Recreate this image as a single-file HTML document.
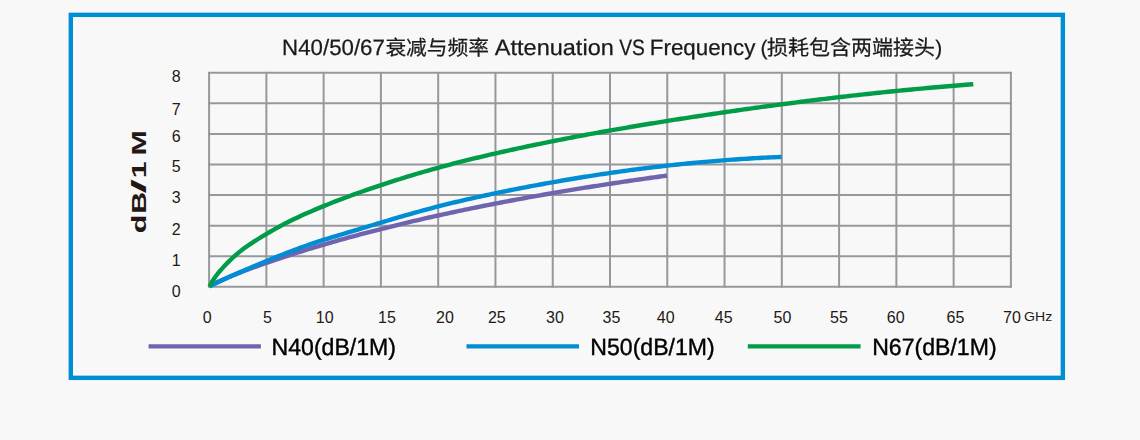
<!DOCTYPE html>
<html lang="zh-CN">
<head>
<meta charset="utf-8">
<title>N40/50/67 衰减与频率 Attenuation VS Frequency</title>
<style>
html,body{margin:0;padding:0;background:#f8f8f8;}
body{width:1140px;height:440px;overflow:hidden;}
svg{display:block;}
text{font-family:"Liberation Sans","Noto Sans CJK SC",sans-serif;}
.tick text,#ylab{fill:#231815;}
#title,#legend{filter:grayscale(1);text-rendering:geometricPrecision;}
.tick text{font-size:16px;}
.grid line{stroke:#96989b;stroke-width:2;}
.curve{fill:none;stroke-width:4.4;stroke-linecap:butt;stroke-linejoin:round;}
</style>
</head>
<body>
<svg width="1140" height="440" viewBox="0 0 1140 440">
<rect x="0" y="0" width="1140" height="440" fill="#f8f8f8"/>
<rect x="70.8" y="14.85" width="992.05" height="363" fill="none" stroke="#008ed2" stroke-width="4.4"/>
<g class="grid">
<line x1="209.10" y1="71.90" x2="209.10" y2="287.70"/>
<line x1="266.37" y1="71.90" x2="266.37" y2="287.70"/>
<line x1="323.64" y1="71.90" x2="323.64" y2="287.70"/>
<line x1="380.91" y1="71.90" x2="380.91" y2="287.70"/>
<line x1="438.19" y1="71.90" x2="438.19" y2="287.70"/>
<line x1="495.46" y1="71.90" x2="495.46" y2="287.70"/>
<line x1="552.73" y1="71.90" x2="552.73" y2="287.70"/>
<line x1="610.00" y1="71.90" x2="610.00" y2="287.70"/>
<line x1="667.27" y1="71.90" x2="667.27" y2="287.70"/>
<line x1="724.54" y1="71.90" x2="724.54" y2="287.70"/>
<line x1="781.81" y1="71.90" x2="781.81" y2="287.70"/>
<line x1="839.09" y1="71.90" x2="839.09" y2="287.70"/>
<line x1="896.36" y1="71.90" x2="896.36" y2="287.70"/>
<line x1="953.63" y1="71.90" x2="953.63" y2="287.70"/>
<line x1="1010.90" y1="71.90" x2="1010.90" y2="287.70"/>
<line x1="208.20" y1="72.80" x2="1011.80" y2="72.80"/>
<line x1="208.20" y1="103.37" x2="1011.80" y2="103.37"/>
<line x1="208.20" y1="133.94" x2="1011.80" y2="133.94"/>
<line x1="208.20" y1="164.51" x2="1011.80" y2="164.51"/>
<line x1="208.20" y1="195.09" x2="1011.80" y2="195.09"/>
<line x1="208.20" y1="225.66" x2="1011.80" y2="225.66"/>
<line x1="208.20" y1="256.23" x2="1011.80" y2="256.23"/>
<line x1="208.20" y1="286.80" x2="1011.80" y2="286.80"/>
</g>
<path class="curve" stroke="#6f64ae" d="M209.45,286.37 L209.50,286.33 L209.64,286.22 L209.88,286.05 L210.21,285.83 L210.64,285.56 L211.16,285.25 L211.78,284.90 L212.49,284.51 L213.30,284.09 L214.21,283.63 L215.21,283.13 L216.30,282.60 L217.49,282.04 L218.77,281.44 L220.15,280.82 L221.63,280.16 L223.20,279.46 L224.86,278.74 L226.62,277.99 L228.47,277.21 L230.43,276.40 L232.47,275.57 L234.61,274.70 L236.85,273.81 L239.18,272.89 L241.60,271.95 L244.12,270.98 L246.74,269.99 L249.45,268.98 L252.10,268.00 L255.10,266.90 L258.10,265.82 L261.10,264.75 L264.10,263.69 L267.10,262.64 L270.10,261.61 L273.10,260.58 L276.10,259.57 L279.10,258.56 L282.10,257.57 L285.10,256.58 L288.10,255.60 L291.10,254.64 L294.10,253.68 L297.10,252.73 L300.10,251.79 L303.10,250.85 L306.10,249.93 L309.10,249.01 L312.10,248.10 L315.10,247.20 L318.10,246.30 L321.10,245.41 L324.10,244.53 L327.10,243.66 L330.10,242.79 L333.10,241.93 L336.10,241.08 L339.10,240.23 L342.10,239.39 L345.10,238.56 L348.10,237.73 L351.10,236.91 L354.10,236.09 L357.10,235.28 L360.10,234.48 L363.10,233.68 L366.10,232.89 L369.10,232.10 L372.10,231.32 L375.10,230.55 L378.10,229.78 L381.10,229.02 L384.10,228.26 L387.10,227.51 L390.10,226.76 L393.10,226.02 L396.10,225.28 L399.10,224.55 L402.10,223.83 L405.10,223.11 L408.10,222.39 L411.10,221.68 L414.10,220.97 L417.10,220.27 L420.10,219.58 L423.10,218.89 L426.10,218.20 L429.10,217.52 L432.10,216.84 L435.10,216.17 L438.10,215.50 L441.10,214.84 L444.10,214.18 L447.10,213.53 L450.10,212.88 L453.10,212.24 L456.10,211.60 L459.10,210.96 L462.10,210.33 L465.10,209.70 L468.10,209.08 L471.10,208.46 L474.10,207.85 L477.10,207.24 L480.10,206.63 L483.10,206.03 L486.10,205.43 L489.10,204.84 L492.10,204.24 L495.10,203.66 L498.10,203.07 L501.10,202.50 L504.10,201.92 L507.10,201.35 L510.10,200.78 L513.10,200.22 L516.10,199.66 L519.10,199.10 L522.10,198.55 L525.10,198.00 L528.10,197.45 L531.10,196.91 L534.10,196.37 L537.10,195.83 L540.10,195.30 L543.10,194.77 L546.10,194.24 L549.10,193.72 L552.10,193.20 L555.10,192.69 L558.10,192.17 L561.10,191.66 L564.10,191.16 L567.10,190.65 L570.10,190.16 L573.10,189.66 L576.10,189.17 L579.10,188.67 L582.10,188.19 L585.10,187.70 L588.10,187.22 L591.10,186.74 L594.10,186.27 L597.10,185.80 L600.10,185.33 L603.10,184.86 L606.10,184.40 L609.10,183.94 L612.10,183.48 L615.10,183.03 L618.10,182.58 L621.10,182.13 L624.10,181.68 L627.10,181.24 L630.10,180.80 L633.10,180.36 L636.10,179.93 L639.10,179.50 L642.10,179.07 L645.10,178.64 L648.10,178.22 L651.10,177.80 L654.10,177.38 L657.10,176.96 L660.10,176.55 L663.10,176.14 L666.10,175.73 L667.00,175.61"/>
<path class="curve" stroke="#008dd4" d="M209.45,286.53 L209.50,286.50 L209.64,286.41 L209.88,286.28 L210.21,286.09 L210.64,285.86 L211.16,285.58 L211.78,285.26 L212.49,284.90 L213.30,284.49 L214.21,284.04 L215.21,283.55 L216.30,283.02 L217.49,282.45 L218.77,281.84 L220.15,281.19 L221.63,280.50 L223.20,279.78 L224.86,279.01 L226.62,278.21 L228.47,277.36 L230.43,276.49 L232.47,275.57 L234.61,274.62 L236.85,273.63 L239.18,272.61 L241.60,271.55 L244.12,270.46 L246.74,269.33 L249.45,268.17 L252.10,267.04 L255.10,265.77 L258.10,264.51 L261.10,263.26 L264.10,262.01 L267.10,260.77 L270.10,259.54 L273.10,258.32 L276.10,257.11 L279.10,255.90 L282.10,254.72 L285.10,253.54 L288.10,252.38 L291.10,251.23 L294.10,250.10 L297.10,248.98 L300.10,247.88 L303.10,246.80 L306.10,245.74 L309.10,244.69 L312.10,243.66 L315.10,242.65 L318.10,241.65 L321.10,240.67 L324.10,239.72 L327.10,238.78 L330.10,237.85 L333.10,236.94 L336.10,236.03 L339.10,235.14 L342.10,234.24 L345.10,233.35 L348.10,232.46 L351.10,231.57 L354.10,230.67 L357.10,229.77 L360.10,228.87 L363.10,227.96 L366.10,227.06 L369.10,226.15 L372.10,225.24 L375.10,224.34 L378.10,223.43 L381.10,222.53 L384.10,221.63 L387.10,220.74 L390.10,219.85 L393.10,218.96 L396.10,218.08 L399.10,217.20 L402.10,216.33 L405.10,215.46 L408.10,214.61 L411.10,213.76 L414.10,212.91 L417.10,212.07 L420.10,211.25 L423.10,210.43 L426.10,209.62 L429.10,208.81 L432.10,208.02 L435.10,207.23 L438.10,206.46 L441.10,205.70 L444.10,204.94 L447.10,204.19 L450.10,203.46 L453.10,202.73 L456.10,202.01 L459.10,201.30 L462.10,200.59 L465.10,199.90 L468.10,199.21 L471.10,198.53 L474.10,197.86 L477.10,197.19 L480.10,196.53 L483.10,195.88 L486.10,195.23 L489.10,194.59 L492.10,193.96 L495.10,193.33 L498.10,192.71 L501.10,192.09 L504.10,191.48 L507.10,190.87 L510.10,190.27 L513.10,189.68 L516.10,189.09 L519.10,188.50 L522.10,187.92 L525.10,187.34 L528.10,186.77 L531.10,186.20 L534.10,185.64 L537.10,185.08 L540.10,184.53 L543.10,183.98 L546.10,183.43 L549.10,182.89 L552.10,182.35 L555.10,181.82 L558.10,181.30 L561.10,180.78 L564.10,180.26 L567.10,179.75 L570.10,179.24 L573.10,178.74 L576.10,178.24 L579.10,177.75 L582.10,177.27 L585.10,176.78 L588.10,176.31 L591.10,175.84 L594.10,175.37 L597.10,174.91 L600.10,174.45 L603.10,174.00 L606.10,173.56 L609.10,173.12 L612.10,172.68 L615.10,172.25 L618.10,171.83 L621.10,171.41 L624.10,170.99 L627.10,170.58 L630.10,170.18 L633.10,169.78 L636.10,169.39 L639.10,169.00 L642.10,168.62 L645.10,168.24 L648.10,167.87 L651.10,167.50 L654.10,167.14 L657.10,166.79 L660.10,166.44 L663.10,166.09 L666.10,165.76 L669.10,165.42 L672.10,165.09 L675.10,164.77 L678.10,164.45 L681.10,164.14 L684.10,163.84 L687.10,163.53 L690.10,163.24 L693.10,162.95 L696.10,162.67 L699.10,162.39 L702.10,162.11 L705.10,161.85 L708.10,161.58 L711.10,161.33 L714.10,161.07 L717.10,160.83 L720.10,160.59 L723.10,160.35 L726.10,160.13 L729.10,159.90 L732.10,159.68 L735.10,159.47 L738.10,159.26 L741.10,159.06 L744.10,158.87 L747.10,158.68 L750.10,158.49 L753.10,158.31 L756.10,158.14 L759.10,157.97 L762.10,157.81 L765.10,157.65 L768.10,157.50 L771.10,157.36 L774.10,157.22 L777.10,157.08 L780.10,156.95 L781.60,156.89"/>
<path class="curve" stroke="#009c48" d="M209.45,286.86 L209.50,286.78 L209.64,286.53 L209.88,286.07 L210.21,285.41 L210.64,284.56 L211.16,283.54 L211.78,282.41 L212.49,281.18 L213.30,279.86 L214.21,278.48 L215.21,277.03 L216.30,275.54 L217.49,273.99 L218.77,272.40 L220.15,270.77 L221.63,269.09 L223.20,267.36 L224.86,265.58 L226.62,263.75 L228.47,261.87 L230.43,259.95 L232.47,257.99 L234.61,256.03 L236.85,254.08 L239.18,252.14 L241.60,250.22 L244.12,248.31 L246.74,246.42 L249.45,244.54 L252.10,242.79 L255.10,240.88 L258.10,239.00 L261.10,237.15 L264.10,235.33 L267.10,233.53 L270.10,231.77 L273.10,230.05 L276.10,228.36 L279.10,226.71 L282.10,225.11 L285.10,223.54 L288.10,222.02 L291.10,220.53 L294.10,219.07 L297.10,217.64 L300.10,216.24 L303.10,214.87 L306.10,213.53 L309.10,212.20 L312.10,210.90 L315.10,209.62 L318.10,208.36 L321.10,207.12 L324.10,205.90 L327.10,204.69 L330.10,203.50 L333.10,202.32 L336.10,201.16 L339.10,200.01 L342.10,198.87 L345.10,197.75 L348.10,196.63 L351.10,195.53 L354.10,194.44 L357.10,193.35 L360.10,192.28 L363.10,191.22 L366.10,190.16 L369.10,189.12 L372.10,188.09 L375.10,187.06 L378.10,186.05 L381.10,185.05 L384.10,184.05 L387.10,183.07 L390.10,182.10 L393.10,181.13 L396.10,180.17 L399.10,179.23 L402.10,178.29 L405.10,177.36 L408.10,176.44 L411.10,175.54 L414.10,174.64 L417.10,173.74 L420.10,172.86 L423.10,171.99 L426.10,171.13 L429.10,170.27 L432.10,169.42 L435.10,168.59 L438.10,167.76 L441.10,166.94 L444.10,166.13 L447.10,165.32 L450.10,164.53 L453.10,163.74 L456.10,162.97 L459.10,162.20 L462.10,161.44 L465.10,160.69 L468.10,159.94 L471.10,159.21 L474.10,158.48 L477.10,157.76 L480.10,157.04 L483.10,156.33 L486.10,155.62 L489.10,154.92 L492.10,154.22 L495.10,153.53 L498.10,152.84 L501.10,152.16 L504.10,151.49 L507.10,150.82 L510.10,150.15 L513.10,149.49 L516.10,148.84 L519.10,148.19 L522.10,147.55 L525.10,146.91 L528.10,146.27 L531.10,145.64 L534.10,145.02 L537.10,144.40 L540.10,143.78 L543.10,143.17 L546.10,142.56 L549.10,141.95 L552.10,141.35 L555.10,140.76 L558.10,140.17 L561.10,139.58 L564.10,139.00 L567.10,138.42 L570.10,137.84 L573.10,137.27 L576.10,136.70 L579.10,136.13 L582.10,135.57 L585.10,135.02 L588.10,134.46 L591.10,133.91 L594.10,133.36 L597.10,132.82 L600.10,132.28 L603.10,131.74 L606.10,131.20 L609.10,130.67 L612.10,130.15 L615.10,129.62 L618.10,129.10 L621.10,128.58 L624.10,128.06 L627.10,127.55 L630.10,127.04 L633.10,126.53 L636.10,126.03 L639.10,125.52 L642.10,125.02 L645.10,124.53 L648.10,124.03 L651.10,123.54 L654.10,123.05 L657.10,122.57 L660.10,122.08 L663.10,121.60 L666.10,121.12 L669.10,120.64 L672.10,120.17 L675.10,119.70 L678.10,119.23 L681.10,118.76 L684.10,118.30 L687.10,117.83 L690.10,117.37 L693.10,116.92 L696.10,116.46 L699.10,116.01 L702.10,115.55 L705.10,115.10 L708.10,114.66 L711.10,114.21 L714.10,113.77 L717.10,113.33 L720.10,112.89 L723.10,112.45 L726.10,112.01 L729.10,111.58 L732.10,111.15 L735.10,110.72 L738.10,110.29 L741.10,109.86 L744.10,109.44 L747.10,109.02 L750.10,108.60 L753.10,108.18 L756.10,107.76 L759.10,107.35 L762.10,106.94 L765.10,106.53 L768.10,106.12 L771.10,105.72 L774.10,105.31 L777.10,104.91 L780.10,104.52 L783.10,104.12 L786.10,103.73 L789.10,103.34 L792.10,102.95 L795.10,102.56 L798.10,102.18 L801.10,101.79 L804.10,101.41 L807.10,101.04 L810.10,100.66 L813.10,100.29 L816.10,99.92 L819.10,99.55 L822.10,99.19 L825.10,98.83 L828.10,98.47 L831.10,98.11 L834.10,97.75 L837.10,97.40 L840.10,97.05 L843.10,96.70 L846.10,96.36 L849.10,96.02 L852.10,95.68 L855.10,95.34 L858.10,95.01 L861.10,94.67 L864.10,94.35 L867.10,94.02 L870.10,93.69 L873.10,93.37 L876.10,93.05 L879.10,92.74 L882.10,92.43 L885.10,92.12 L888.10,91.81 L891.10,91.50 L894.10,91.20 L897.10,90.90 L900.10,90.60 L903.10,90.31 L906.10,90.02 L909.10,89.73 L912.10,89.44 L915.10,89.16 L918.10,88.88 L921.10,88.60 L924.10,88.33 L927.10,88.05 L930.10,87.78 L933.10,87.52 L936.10,87.25 L939.10,86.99 L942.10,86.73 L945.10,86.48 L948.10,86.23 L951.10,85.98 L954.10,85.73 L957.10,85.49 L960.10,85.25 L963.10,85.01 L966.10,84.77 L969.10,84.54 L972.10,84.31 L973.30,84.22"/>
<text id="title" y="55.2" font-size="22.2" fill="#1a1a1a" stroke="#1a1a1a" stroke-width="0.25"><tspan id="t1" x="282.1" textLength="102.8" lengthAdjust="spacingAndGlyphs">N40/50/67</tspan><tspan id="t2" x="385.4" font-size="20.6" textLength="103.6" lengthAdjust="spacingAndGlyphs">衰减与频率</tspan> <tspan id="t3" x="494.8" textLength="119.0" lengthAdjust="spacingAndGlyphs">Attenuation</tspan> <tspan id="t4" x="619.2" textLength="25.6" lengthAdjust="spacingAndGlyphs">VS</tspan> <tspan id="t5" x="649.8" textLength="105.6" lengthAdjust="spacingAndGlyphs">Frequency</tspan> <tspan id="t6" x="760.5" font-size="21">(<tspan dx="-0.6">损耗包含两端接头</tspan><tspan dx="0.3">)</tspan></tspan></text>
<g class="tick" id="xt">
<text x="207.3" y="322.6" text-anchor="middle">0</text>
<text x="267.5" y="322.6" text-anchor="middle">5</text>
<text x="324.7" y="322.6" text-anchor="middle">10</text>
<text x="387.0" y="322.6" text-anchor="middle">15</text>
<text x="444.9" y="322.6" text-anchor="middle">20</text>
<text x="496.8" y="322.6" text-anchor="middle">25</text>
<text x="554.9" y="322.6" text-anchor="middle">30</text>
<text x="611.4" y="322.6" text-anchor="middle">35</text>
<text x="665.7" y="322.6" text-anchor="middle">40</text>
<text x="723.7" y="322.6" text-anchor="middle">45</text>
<text x="782.4" y="322.6" text-anchor="middle">50</text>
<text x="839.0" y="322.6" text-anchor="middle">55</text>
<text x="895.7" y="322.6" text-anchor="middle">60</text>
<text x="955.4" y="322.6" text-anchor="middle">65</text>
<text x="1012.0" y="322.6" text-anchor="middle">70</text>
<text id="ghz" x="1024" y="321.2" style="font-size:12.6px" textLength="28.2" lengthAdjust="spacingAndGlyphs">GHz</text>
</g>
<g class="tick" id="yt">
<text x="176.1" y="82.05" text-anchor="middle">8</text>
<text x="176.1" y="115.05" text-anchor="middle">7</text>
<text x="176.1" y="141.95" text-anchor="middle">6</text>
<text x="176.1" y="172.05" text-anchor="middle">5</text>
<text x="176.1" y="202.95" text-anchor="middle">3</text>
<text x="176.1" y="234.55" text-anchor="middle">2</text>
<text x="176.1" y="266.35" text-anchor="middle">1</text>
<text x="176.1" y="297.25" text-anchor="middle">0</text>
</g>
<text id="ylab" transform="translate(146.4,233.2) rotate(-90) scale(1.45,1)" font-size="21" font-weight="bold"><tspan x="0 13.4">dB</tspan><tspan x="27.3" textLength="10" lengthAdjust="spacingAndGlyphs">/</tspan><tspan x="37.9 53.6">1M</tspan></text>
<g id="legend-lines" stroke-width="4.4">
<line x1="148.6" y1="346.4" x2="260.9" y2="346.4" stroke="#6f64ae"/>
<line x1="466.5" y1="346.4" x2="579.0" y2="346.4" stroke="#008dd4"/>
<line x1="747.8" y1="346.4" x2="860.6" y2="346.4" stroke="#009c48"/>
</g>
<g id="legend" font-size="23.5" stroke="#000" stroke-width="0.4">
<text id="l1" fill="#000" x="271.6" y="354.6" textLength="124.4" lengthAdjust="spacingAndGlyphs">N40(dB/1M)</text>
<text id="l2" fill="#000" x="590.3" y="354.6" textLength="124.4" lengthAdjust="spacingAndGlyphs">N50(dB/1M)</text>
<text id="l3" fill="#000" x="872.2" y="354.6" textLength="124.4" lengthAdjust="spacingAndGlyphs">N67(dB/1M)</text>
</g>
</svg>
</body>
</html>
